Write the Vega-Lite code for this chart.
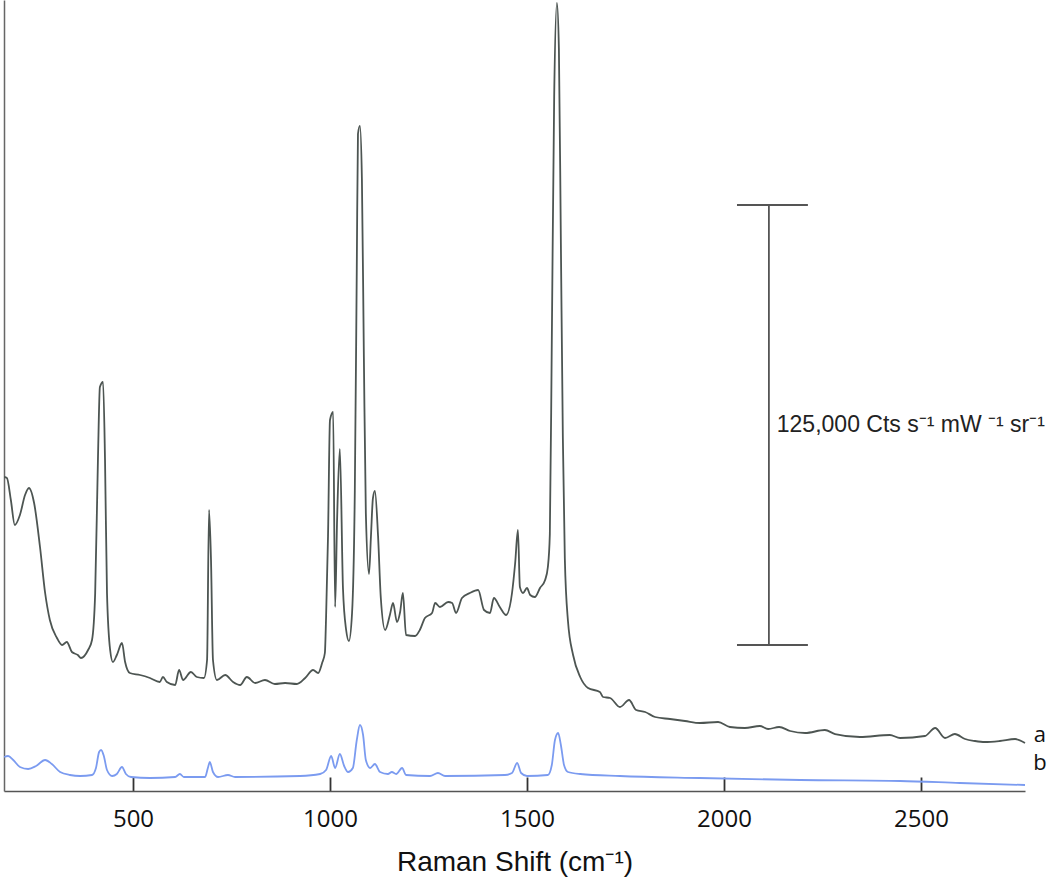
{
  "$schema": "https://vega.github.io/schema/vega-lite/v6.json",
  "width": 1021,
  "height": 791,
  "autosize": "none",
  "padding": {"left": 4, "top": 0, "right": 25, "bottom": 94},
  "background": "white",
  "config": {"view": {"stroke": null}},
  "datasets": {
    "spectra": [
      {"x":173,"y":89204,"s":"a"},{"x":180,"y":88920,"s":"a"},{"x":190,"y":82670,"s":"a"},{"x":200,"y":75568,"s":"a"},{"x":213,"y":78409,"s":"a"},{"x":226,"y":84091,"s":"a"},{"x":236,"y":86079,"s":"a"},{"x":249,"y":81818,"s":"a"},{"x":264,"y":69318,"s":"a"},{"x":277,"y":56250,"s":"a"},{"x":289,"y":48579,"s":"a"},{"x":307,"y":43466,"s":"a"},{"x":320,"y":41477,"s":"a"},{"x":332,"y":42329,"s":"a"},{"x":345,"y":39489,"s":"a"},{"x":360,"y":38636,"s":"a"},{"x":368,"y":37784,"s":"a"},{"x":386,"y":40057,"s":"a"},{"x":396,"y":42898,"s":"a"},{"x":404,"y":56250,"s":"a"},{"x":411,"y":94034,"s":"a"},{"x":416,"y":114772,"s":"a"},{"x":424,"y":116193,"s":"a"},{"x":429,"y":94034,"s":"a"},{"x":434,"y":56250,"s":"a"},{"x":442,"y":40057,"s":"a"},{"x":449,"y":36648,"s":"a"},{"x":459,"y":38636,"s":"a"},{"x":472,"y":42045,"s":"a"},{"x":480,"y":36648,"s":"a"},{"x":492,"y":33523,"s":"a"},{"x":518,"y":32954,"s":"a"},{"x":543,"y":32102,"s":"a"},{"x":568,"y":30966,"s":"a"},{"x":576,"y":32386,"s":"a"},{"x":586,"y":30966,"s":"a"},{"x":607,"y":30114,"s":"a"},{"x":617,"y":34375,"s":"a"},{"x":627,"y":31534,"s":"a"},{"x":647,"y":33807,"s":"a"},{"x":662,"y":32386,"s":"a"},{"x":680,"y":32102,"s":"a"},{"x":688,"y":37216,"s":"a"},{"x":693,"y":79829,"s":"a"},{"x":698,"y":65625,"s":"a"},{"x":703,"y":37216,"s":"a"},{"x":713,"y":31534,"s":"a"},{"x":734,"y":32954,"s":"a"},{"x":754,"y":30966,"s":"a"},{"x":772,"y":30114,"s":"a"},{"x":789,"y":32386,"s":"a"},{"x":810,"y":30682,"s":"a"},{"x":835,"y":31534,"s":"a"},{"x":860,"y":30398,"s":"a"},{"x":886,"y":30682,"s":"a"},{"x":916,"y":30398,"s":"a"},{"x":937,"y":32102,"s":"a"},{"x":957,"y":34375,"s":"a"},{"x":970,"y":33523,"s":"a"},{"x":980,"y":36364,"s":"a"},{"x":987,"y":39205,"s":"a"},{"x":990,"y":49148,"s":"a"},{"x":995,"y":72443,"s":"a"},{"x":1000,"y":105397,"s":"a"},{"x":1008,"y":107670,"s":"a"},{"x":1013,"y":52273,"s":"a"},{"x":1018,"y":76988,"s":"a"},{"x":1025,"y":97159,"s":"a"},{"x":1033,"y":57386,"s":"a"},{"x":1041,"y":45738,"s":"a"},{"x":1048,"y":42614,"s":"a"},{"x":1056,"y":50568,"s":"a"},{"x":1063,"y":85227,"s":"a"},{"x":1068,"y":148579,"s":"a"},{"x":1071,"y":186647,"s":"a"},{"x":1076,"y":188920,"s":"a"},{"x":1081,"y":173863,"s":"a"},{"x":1086,"y":123295,"s":"a"},{"x":1091,"y":78977,"s":"a"},{"x":1099,"y":61648,"s":"a"},{"x":1104,"y":72443,"s":"a"},{"x":1109,"y":83238,"s":"a"},{"x":1114,"y":85227,"s":"a"},{"x":1122,"y":72443,"s":"a"},{"x":1129,"y":54829,"s":"a"},{"x":1140,"y":45738,"s":"a"},{"x":1152,"y":50000,"s":"a"},{"x":1160,"y":53409,"s":"a"},{"x":1170,"y":48011,"s":"a"},{"x":1178,"y":50852,"s":"a"},{"x":1185,"y":56250,"s":"a"},{"x":1193,"y":44318,"s":"a"},{"x":1216,"y":44034,"s":"a"},{"x":1228,"y":45738,"s":"a"},{"x":1241,"y":49148,"s":"a"},{"x":1259,"y":50568,"s":"a"},{"x":1267,"y":53409,"s":"a"},{"x":1279,"y":52273,"s":"a"},{"x":1300,"y":53693,"s":"a"},{"x":1310,"y":53409,"s":"a"},{"x":1320,"y":50568,"s":"a"},{"x":1335,"y":54829,"s":"a"},{"x":1355,"y":56250,"s":"a"},{"x":1376,"y":57102,"s":"a"},{"x":1391,"y":51420,"s":"a"},{"x":1406,"y":50568,"s":"a"},{"x":1416,"y":54829,"s":"a"},{"x":1431,"y":52273,"s":"a"},{"x":1447,"y":50000,"s":"a"},{"x":1462,"y":56250,"s":"a"},{"x":1470,"y":64773,"s":"a"},{"x":1477,"y":74148,"s":"a"},{"x":1482,"y":57954,"s":"a"},{"x":1490,"y":56250,"s":"a"},{"x":1500,"y":57670,"s":"a"},{"x":1508,"y":55682,"s":"a"},{"x":1520,"y":55114,"s":"a"},{"x":1533,"y":57670,"s":"a"},{"x":1546,"y":59943,"s":"a"},{"x":1553,"y":63636,"s":"a"},{"x":1558,"y":73011,"s":"a"},{"x":1563,"y":128125,"s":"a"},{"x":1569,"y":197159,"s":"a"},{"x":1576,"y":223863,"s":"a"},{"x":1581,"y":210795,"s":"a"},{"x":1586,"y":155682,"s":"a"},{"x":1591,"y":100568,"s":"a"},{"x":1596,"y":66193,"s":"a"},{"x":1604,"y":48295,"s":"a"},{"x":1617,"y":38636,"s":"a"},{"x":1635,"y":32386,"s":"a"},{"x":1655,"y":29261,"s":"a"},{"x":1685,"y":28125,"s":"a"},{"x":1693,"y":26704,"s":"a"},{"x":1711,"y":26420,"s":"a"},{"x":1736,"y":23864,"s":"a"},{"x":1759,"y":25852,"s":"a"},{"x":1777,"y":23011,"s":"a"},{"x":1800,"y":22443,"s":"a"},{"x":1825,"y":21023,"s":"a"},{"x":1863,"y":20455,"s":"a"},{"x":1901,"y":19886,"s":"a"},{"x":1939,"y":19318,"s":"a"},{"x":1985,"y":19602,"s":"a"},{"x":2015,"y":18182,"s":"a"},{"x":2053,"y":17898,"s":"a"},{"x":2091,"y":18466,"s":"a"},{"x":2112,"y":17614,"s":"a"},{"x":2140,"y":18182,"s":"a"},{"x":2168,"y":17045,"s":"a"},{"x":2206,"y":16477,"s":"a"},{"x":2256,"y":17330,"s":"a"},{"x":2282,"y":16193,"s":"a"},{"x":2345,"y":15341,"s":"a"},{"x":2421,"y":15909,"s":"a"},{"x":2447,"y":15057,"s":"a"},{"x":2510,"y":15625,"s":"a"},{"x":2536,"y":17898,"s":"a"},{"x":2561,"y":15057,"s":"a"},{"x":2586,"y":16193,"s":"a"},{"x":2612,"y":14773,"s":"a"},{"x":2637,"y":14205,"s":"a"},{"x":2662,"y":13920,"s":"a"},{"x":2700,"y":14205,"s":"a"},{"x":2739,"y":14773,"s":"a"},{"x":2764,"y":13636,"s":"a"},
      {"x":173,"y":9659,"s":"b"},{"x":183,"y":9943,"s":"b"},{"x":196,"y":8807,"s":"b"},{"x":213,"y":6818,"s":"b"},{"x":234,"y":6250,"s":"b"},{"x":254,"y":7102,"s":"b"},{"x":277,"y":8807,"s":"b"},{"x":294,"y":7670,"s":"b"},{"x":315,"y":5398,"s":"b"},{"x":340,"y":4545,"s":"b"},{"x":366,"y":4261,"s":"b"},{"x":396,"y":4545,"s":"b"},{"x":406,"y":6534,"s":"b"},{"x":414,"y":11080,"s":"b"},{"x":419,"y":11648,"s":"b"},{"x":426,"y":9943,"s":"b"},{"x":434,"y":5966,"s":"b"},{"x":447,"y":4261,"s":"b"},{"x":459,"y":4830,"s":"b"},{"x":472,"y":6818,"s":"b"},{"x":482,"y":4830,"s":"b"},{"x":495,"y":3977,"s":"b"},{"x":543,"y":3693,"s":"b"},{"x":607,"y":3977,"s":"b"},{"x":619,"y":4830,"s":"b"},{"x":629,"y":3977,"s":"b"},{"x":683,"y":3977,"s":"b"},{"x":690,"y":6534,"s":"b"},{"x":695,"y":8239,"s":"b"},{"x":703,"y":5398,"s":"b"},{"x":716,"y":3977,"s":"b"},{"x":741,"y":4545,"s":"b"},{"x":759,"y":3977,"s":"b"},{"x":924,"y":4261,"s":"b"},{"x":975,"y":4830,"s":"b"},{"x":990,"y":5966,"s":"b"},{"x":1003,"y":9943,"s":"b"},{"x":1013,"y":6534,"s":"b"},{"x":1025,"y":10511,"s":"b"},{"x":1036,"y":7102,"s":"b"},{"x":1046,"y":5398,"s":"b"},{"x":1058,"y":6534,"s":"b"},{"x":1068,"y":14489,"s":"b"},{"x":1076,"y":18750,"s":"b"},{"x":1084,"y":15909,"s":"b"},{"x":1091,"y":8807,"s":"b"},{"x":1102,"y":6534,"s":"b"},{"x":1114,"y":7670,"s":"b"},{"x":1127,"y":5398,"s":"b"},{"x":1147,"y":4830,"s":"b"},{"x":1157,"y":5398,"s":"b"},{"x":1168,"y":4830,"s":"b"},{"x":1183,"y":6534,"s":"b"},{"x":1193,"y":4545,"s":"b"},{"x":1254,"y":4261,"s":"b"},{"x":1274,"y":5114,"s":"b"},{"x":1292,"y":4261,"s":"b"},{"x":1444,"y":4545,"s":"b"},{"x":1462,"y":5114,"s":"b"},{"x":1475,"y":7955,"s":"b"},{"x":1485,"y":5114,"s":"b"},{"x":1500,"y":4261,"s":"b"},{"x":1553,"y":4545,"s":"b"},{"x":1563,"y":7386,"s":"b"},{"x":1571,"y":14489,"s":"b"},{"x":1579,"y":16477,"s":"b"},{"x":1586,"y":13068,"s":"b"},{"x":1594,"y":7386,"s":"b"},{"x":1604,"y":5398,"s":"b"},{"x":1635,"y":4830,"s":"b"},{"x":1736,"y":4261,"s":"b"},{"x":1939,"y":3693,"s":"b"},{"x":2193,"y":3125,"s":"b"},{"x":2447,"y":2841,"s":"b"},{"x":2599,"y":2273,"s":"b"},{"x":2764,"y":1705,"s":"b"}
    ]
  },
  "layer": [
    {
      "data": {"name": "spectra"},
      "mark": {"type": "line", "strokeWidth": 1.8, "strokeJoin": "round", "interpolate": "monotone"},
      "encoding": {
        "x": {
          "field": "x", "type": "quantitative",
          "scale": {"domain": [172.6, 2764], "nice": false, "zero": false},
          "axis": {
            "values": [500, 1000, 1500, 2000, 2500],
            "format": "d",
            "grid": false,
            "domainColor": "#555", "domainWidth": 1.5,
            "tickColor": "#333", "tickWidth": 1.8, "tickSize": -14,
            "labelFont": "Open Sans", "labelFontSize": 24, "labelColor": "#111",
            "labelPadding": 30, "labelFlush": false,
            "title": "Raman Shift (cm⁻¹)",
            "titleFont": "Liberation Sans", "titleFontSize": 28, "titleFontWeight": "normal",
            "titleColor": "#111", "titlePadding": 17
          }
        },
        "y": {
          "field": "y", "type": "quantitative",
          "scale": {"domain": [0, 224716], "nice": false},
          "axis": {"ticks": false, "labels": false, "title": null, "grid": false, "domainColor": "#666", "domainWidth": 1.5}
        },
        "color": {
          "field": "s", "type": "nominal",
          "scale": {"domain": ["a", "b"], "range": ["#4d5552", "#7b9bf0"]},
          "legend": null
        }
      }
    },
    {
      "data": {"values": [{"x": 2114, "y": 41477, "y2": 166477}]},
      "mark": {"type": "rule", "color": "#555", "strokeWidth": 1.8},
      "encoding": {
        "x": {"field": "x", "type": "quantitative"},
        "y": {"field": "y", "type": "quantitative"},
        "y2": {"field": "y2"}
      }
    },
    {
      "data": {"values": [{"x": 2033, "x2": 2213, "y": 41477}, {"x": 2033, "x2": 2213, "y": 166477}]},
      "mark": {"type": "rule", "color": "#555", "strokeWidth": 1.8},
      "encoding": {
        "x": {"field": "x", "type": "quantitative"},
        "x2": {"field": "x2"},
        "y": {"field": "y", "type": "quantitative"}
      }
    },
    {
      "data": {"values": [{"x": 2134, "y": 102000, "t": "125,000 Cts s⁻¹ mW ⁻¹ sr⁻¹"}]},
      "mark": {"type": "text", "align": "left", "baseline": "alphabetic", "font": "Liberation Sans", "fontSize": 23, "color": "#222"},
      "encoding": {
        "x": {"field": "x", "type": "quantitative"},
        "y": {"field": "y", "type": "quantitative"},
        "text": {"field": "t"}
      }
    },
    {
      "data": {"values": [{"x": 2802, "y": 15900, "t": "a"}, {"x": 2802, "y": 7950, "t": "b"}]},
      "mark": {"type": "text", "align": "center", "baseline": "middle", "font": "Open Sans", "fontSize": 22, "color": "#111"},
      "encoding": {
        "x": {"field": "x", "type": "quantitative"},
        "y": {"field": "y", "type": "quantitative"},
        "text": {"field": "t"}
      }
    }
  ]
}
